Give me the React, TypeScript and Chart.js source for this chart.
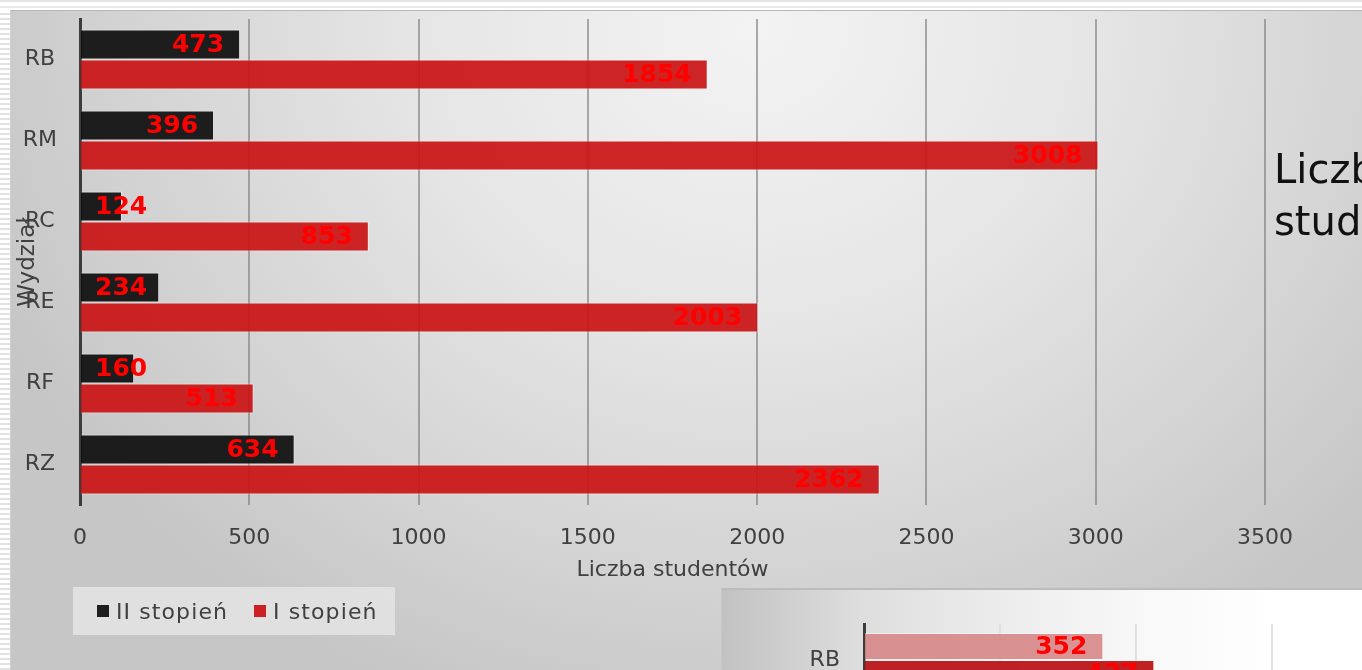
import React, { useEffect, useRef } from "react";
import { Chart, registerables } from "chart.js";

Chart.register(...registerables);

// ---- data ----
const categories = ["RB", "RM", "RC", "RE", "RF", "RZ"];
const seriesNames = ["II stopień", "I stopień"];
const secondDegree = [473, 396, 124, 234, 160, 634];
const firstDegree = [1854, 3008, 853, 2003, 513, 2362];
const xMin = 0;
const xMax = 3500;
const xStep = 500;

const lowerCategories = ["RB"];
const lowerSeriesA = [352];
const lowerSeriesB = [427];
const lowerMax = 800;
const lowerStep = 200;

const FONT = "'DejaVu Sans', Verdana, sans-serif";

const insideEndLabels = {
  id: "insideEndLabels",
  afterDatasetsDraw(chart: any) {
    const ctx = chart.ctx;
    ctx.save();
    ctx.font = `bold 25px ${FONT}`;
    ctx.fillStyle = "#ff0000";
    ctx.textBaseline = "middle";
    ctx.textAlign = "left";
    chart.data.datasets.forEach((ds: any, i: number) => {
      const meta = chart.getDatasetMeta(i);
      meta.data.forEach((bar: any, j: number) => {
        const v = ds.data[j];
        if (v == null) return;
        const text = String(v);
        const w = ctx.measureText(text).width;
        const { x, y, base } = bar.getProps(["x", "y", "base"], true);
        const left = Math.max(x - 16 - w, base + 14);
        ctx.fillText(text, left, y + 1);
      });
    });
    ctx.restore();
  },
};

function MainChart() {
  const ref = useRef<HTMLCanvasElement | null>(null);
  useEffect(() => {
    if (!ref.current) return;
    const chart = new Chart(ref.current, {
      type: "bar",
      data: {
        labels: categories,
        datasets: [
          {
            label: seriesNames[0],
            data: secondDegree,
            backgroundColor: "rgba(13,13,13,0.92)",
            borderColor: "rgba(255,255,255,0.45)",
            borderWidth: 1,
          },
          {
            label: seriesNames[1],
            data: firstDegree,
            backgroundColor: "rgba(202,18,20,0.92)",
            borderColor: "rgba(255,255,255,0.45)",
            borderWidth: 1,
          },
        ],
      },
      options: {
        indexAxis: "y",
        animation: false,
        responsive: true,
        maintainAspectRatio: false,
        layout: { padding: { top: 8, right: 97, left: 0, bottom: 0 } },
        datasets: { bar: { categoryPercentage: 0.74, barPercentage: 1 } } as any,
        plugins: { legend: { display: false }, tooltip: { enabled: false } },
        scales: {
          x: {
            type: "linear",
            min: xMin,
            max: xMax,
            ticks: {
              stepSize: xStep,
              padding: 20,
              color: "#404040",
              font: { family: FONT, size: 22 },
              callback: (v: any) => String(v),
            },
            grid: { color: "rgba(120,120,120,0.6)", lineWidth: 2, drawTicks: false },
            border: { display: false },
            title: {
              display: true,
              text: "Liczba studentów",
              color: "#404040",
              font: { family: FONT, size: 22 },
              padding: { top: 5, bottom: 6 },
            },
            afterFit: (s: any) => {
              s.height = 84;
            },
          },
          y: {
            type: "category",
            ticks: {
              crossAlign: "center",
              padding: 23,
              color: "#404040",
              font: { family: FONT, size: 22 },
            },
            grid: { display: true, color: "rgba(0,0,0,0)", drawTicks: false },
            border: { display: true, color: "#3c3c3c", width: 3 },
            title: {
              display: true,
              text: "Wydział",
              color: "#404040",
              font: { family: FONT, size: 23 },
              padding: { top: 4, bottom: 0 },
            },
            afterFit: (s: any) => {
              s.width = 70;
              s.paddingTop = 0;
              s.paddingBottom = 0;
            },
          },
        },
      } as any,
      plugins: [insideEndLabels],
    });
    return () => chart.destroy();
  }, []);
  return <canvas ref={ref} />;
}

function LowerChart() {
  const ref = useRef<HTMLCanvasElement | null>(null);
  useEffect(() => {
    if (!ref.current) return;
    const chart = new Chart(ref.current, {
      type: "bar",
      data: {
        labels: lowerCategories,
        datasets: [
          {
            label: "A",
            data: lowerSeriesA,
            backgroundColor: "rgba(214,132,132,0.88)",
            borderColor: "rgba(255,255,255,0.5)",
            borderWidth: 1,
          },
          {
            label: "B",
            data: lowerSeriesB,
            backgroundColor: "rgba(186,22,24,0.95)",
            borderColor: "rgba(255,255,255,0.5)",
            borderWidth: 1,
          },
        ],
      },
      options: {
        indexAxis: "y",
        animation: false,
        responsive: true,
        maintainAspectRatio: false,
        layout: { padding: { top: 34, right: 33, left: 0, bottom: 94 } },
        datasets: { bar: { categoryPercentage: 0.75, barPercentage: 1 } } as any,
        plugins: { legend: { display: false }, tooltip: { enabled: false } },
        scales: {
          x: {
            type: "linear",
            min: 0,
            max: lowerMax,
            ticks: { stepSize: lowerStep, display: false },
            grid: { color: "#e0e0e0", lineWidth: 2, drawTicks: false },
            border: { display: false },
            afterFit: (s: any) => {
              s.height = 0;
            },
          },
          y: {
            type: "category",
            ticks: {
              crossAlign: "center",
              padding: 24,
              color: "#404040",
              font: { family: FONT, size: 22 },
            },
            grid: { display: true, color: "rgba(0,0,0,0)", drawTicks: false },
            border: { display: true, color: "#3c3c3c", width: 3 },
            afterFit: (s: any) => {
              s.width = 143;
              s.paddingTop = 0;
              s.paddingBottom = 0;
            },
          },
        },
      } as any,
      plugins: [insideEndLabels],
    });
    return () => chart.destroy();
  }, []);
  return <canvas ref={ref} />;
}

export default function App() {
  const legendText: React.CSSProperties = {
    fontFamily: FONT,
    fontSize: 22,
    color: "#404040",
    letterSpacing: "1.1px",
    whiteSpace: "nowrap",
  };
  const sq = (c: string): React.CSSProperties => ({
    display: "inline-block",
    width: 12,
    height: 12,
    background: c,
    marginRight: 7,
  });
  return (
    <div
      style={{
        position: "absolute",
        left: 0,
        top: 0,
        width: 1362,
        height: 670,
        overflow: "hidden",
        background: "#ffffff",
        fontFamily: FONT,
      }}
    >
      <div
        style={{
          position: "absolute",
          left: 0,
          top: 0,
          width: 1362,
          height: 10,
          background:
            "linear-gradient(to bottom, #e4e4e4 0px, #e4e4e4 2px, #ffffff 2px, #ffffff 6px, #e8e8e8 6px, #e8e8e8 8px, #ffffff 8px)",
        }}
      />
      <div
        style={{
          position: "absolute",
          left: 0,
          top: 10,
          width: 10,
          height: 660,
          background: "repeating-linear-gradient(to bottom, #ffffff 0px, #ffffff 3px, #e2e2e2 3px, #e2e2e2 5px)",
        }}
      />
      <div
        style={{
          position: "absolute",
          left: 10,
          top: 10,
          width: 1352,
          height: 660,
          borderTop: "1px solid #b8b8b8",
          borderLeft: "1px solid #d0d0d0",
          boxSizing: "border-box",
          background:
            "radial-gradient(ellipse 820px 720px at 55% 3%, #f3f3f3 0%, #e6e6e6 40%, #d4d4d4 75%, #c6c6c6 100%)",
        }}
      />
      <div style={{ position: "absolute", left: 10, top: 11, width: 1352, height: 578 }}>
        <MainChart />
      </div>
      <div
        style={{
          position: "absolute",
          left: 73,
          top: 587,
          width: 322,
          height: 48,
          background: "rgba(228,228,228,0.85)",
          display: "flex",
          alignItems: "center",
          boxSizing: "border-box",
          paddingLeft: 24,
        }}
      >
        <span style={sq("#1e1e1e")} />
        <span style={legendText}>{seriesNames[0]}</span>
        <span style={{ ...sq("#cc2024"), marginLeft: 26 }} />
        <span style={legendText}>{seriesNames[1]}</span>
      </div>
      <div
        style={{
          position: "absolute",
          left: 1274,
          top: 143,
          fontFamily: FONT,
          fontSize: 40,
          lineHeight: "52px",
          color: "#111111",
          whiteSpace: "nowrap",
        }}
      >
        Liczba
        <br />
        studentów
      </div>
      <div
        style={{
          position: "absolute",
          left: 721,
          top: 588,
          width: 700,
          height: 200,
          overflow: "hidden",
          borderTop: "2px solid #bcbcbc",
          borderLeft: "1px solid #c8c8c8",
          boxSizing: "border-box",
          background: "linear-gradient(to right, #c2c2c2 0%, #dedede 20%, #ececec 40%, #f8f8f8 60%, #ffffff 80%)",
        }}
      >
        <div style={{ position: "absolute", left: -1, top: 0, width: 720, height: 200 }}>
          <LowerChart />
        </div>
      </div>
    </div>
  );
}
